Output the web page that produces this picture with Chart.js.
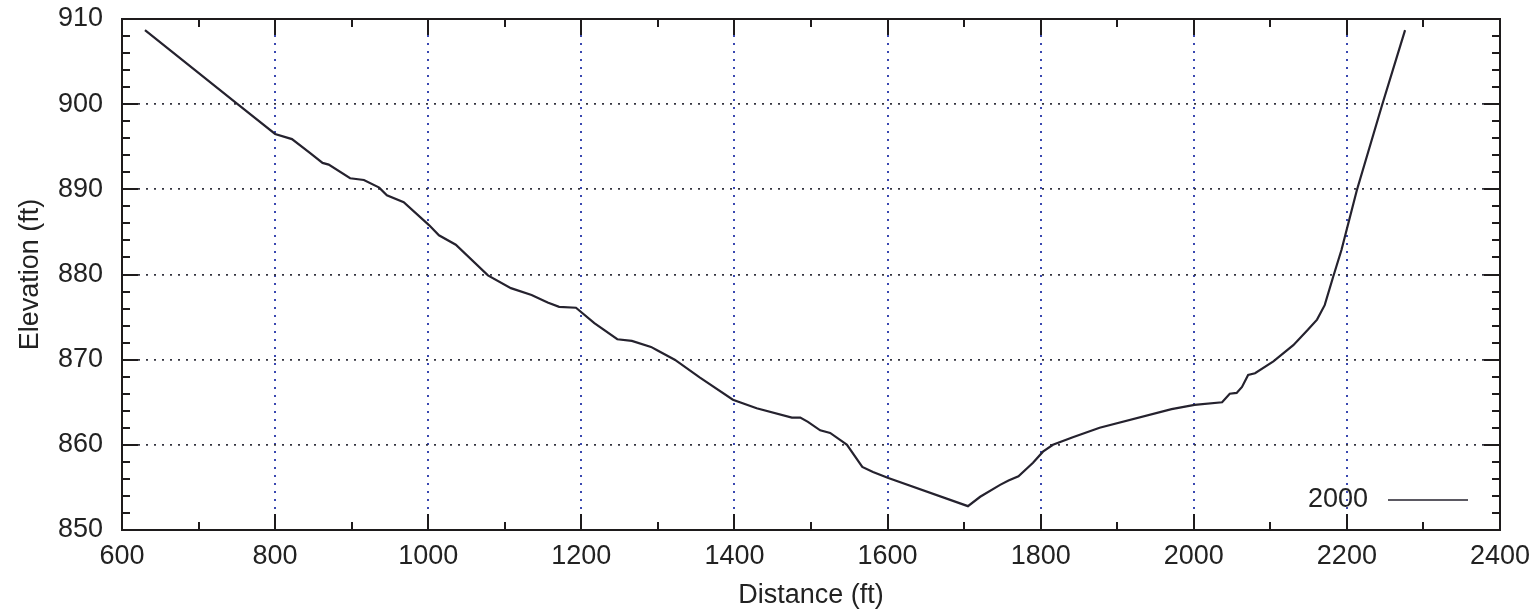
<!DOCTYPE html>
<html>
<head>
<meta charset="utf-8">
<title>Elevation profile</title>
<script src="https://cdn.jsdelivr.net/npm/chart.js@4/dist/chart.umd.min.js"></script>
<style>
    html, body { margin: 0; padding: 0; background: #fff; }
    #wrap { width: 1539px; height: 615px; }
</style>
</head>
<body>
<div id="wrap"><canvas id="profile"></canvas></div>
<script>

// cross section, survey 2000
var seriesName = "2000";
var distance = [630, 751, 800, 822, 845, 862, 870, 898, 916, 936, 946, 968, 1001, 1014, 1036, 1078,
    1108, 1135, 1156, 1171, 1193, 1217, 1247, 1266, 1291, 1299, 1322, 1355, 1398, 1429, 1475, 1486,
    1496, 1512, 1525, 1544, 1547, 1567, 1581, 1601, 1705, 1721, 1747, 1758, 1771, 1790, 1803, 1816,
    1842, 1877, 1971, 2001, 2037, 2047, 2056, 2063, 2071, 2080, 2104, 2130, 2149, 2161, 2171, 2182,
    2193, 2213, 2246, 2276];
var elevation = [908.7, 900.0, 896.5, 895.9, 894.3, 893.1, 892.9, 891.3, 891.1, 890.2, 889.3, 888.5, 885.8, 884.6, 883.5, 879.9,
    878.4, 877.6, 876.7, 876.2, 876.1, 874.3, 872.4, 872.2, 871.5, 871.1, 870.0, 867.9, 865.3, 864.3, 863.2, 863.2,
    862.7, 861.7, 861.4, 860.2, 860.0, 857.4, 856.8, 856.1, 852.8, 853.9, 855.3, 855.8, 856.3, 857.9, 859.2, 860.0,
    860.9, 862.0, 864.2, 864.7, 865.0, 866.0, 866.1, 866.8, 868.2, 868.4, 869.8, 871.7, 873.5, 874.7, 876.4, 879.7,
    882.9, 889.9, 899.9, 908.7];

var xMin = 600, xMax = 2400, xStep = 200, xMinor = 100;
var yMin = 850, yMax = 910, yStep = 10, yMinor = 2;

var points = [];
for (var i = 0; i < distance.length; i++) {
    points.push({x: distance[i], y: elevation[i]});
}

var lineColor = "#25222e";
var fontFamily = "'Liberation Sans', Arial, sans-serif";

// plain numbers, no thousands separator
var plainLabel = function (value) {
    return String(value);
};

// gnuplot style frame: box, inward ticks on all four sides, key inside
var frameTicks = {
    id: 'frameTicks',
    afterDraw: function (chart) {
        var ctx = chart.ctx;
        var a = chart.chartArea;
        var xs = chart.scales.x;
        var ys = chart.scales.y;
        var v, p, len;

        ctx.save();
        ctx.strokeStyle = "#1e1b1c";
        ctx.lineWidth = 2;
        ctx.beginPath();

        for (v = xMin; v <= xMax; v += xMinor) {
            p = Math.round(xs.getPixelForValue(v));
            len = (v % xStep === 0) ? 16 : 8;
            ctx.moveTo(p, a.bottom);
            ctx.lineTo(p, a.bottom - len);
            ctx.moveTo(p, a.top);
            ctx.lineTo(p, a.top + len);
        }
        for (v = yMin; v <= yMax; v += yMinor) {
            p = Math.round(ys.getPixelForValue(v));
            len = (v % yStep === 0) ? 16 : 8;
            ctx.moveTo(a.left, p);
            ctx.lineTo(a.left + len, p);
            ctx.moveTo(a.right, p);
            ctx.lineTo(a.right - len, p);
        }
        ctx.stroke();

        ctx.strokeRect(a.left, a.top, a.right - a.left, a.bottom - a.top);

        // key
        var ky = a.bottom - 30;
        ctx.fillStyle = "#222";
        ctx.font = "27px " + fontFamily;
        ctx.textAlign = "right";
        ctx.textBaseline = "middle";
        ctx.fillText(chart.data.datasets[0].label, a.right - 132, ky);
        ctx.strokeStyle = lineColor;
        ctx.lineWidth = 1.5;
        ctx.beginPath();
        ctx.moveTo(a.right - 112, ky);
        ctx.lineTo(a.right - 32, ky);
        ctx.stroke();
        ctx.restore();
    }
};

var ctx = document.getElementById("profile").getContext("2d");

var chart = new Chart(ctx, {
    type: 'line',
    data: {
        datasets: [
            {
                label: seriesName,
                data: points,
                borderColor: lineColor,
                borderWidth: 2.2,
                pointRadius: 0,
                tension: 0,
                fill: false
            }
        ]
    },
    options: {
        responsive: true,
        maintainAspectRatio: false,
        animation: false,
        layout: {
            padding: {left: 0, right: 39, top: 19, bottom: 0}
        },
        plugins: {
            legend: {display: false},
            tooltip: {enabled: false}
        },
        scales: {
            x: {
                type: 'linear',
                min: xMin,
                max: xMax,
                ticks: {
                    stepSize: xStep,
                    callback: plainLabel,
                    color: "#222",
                    padding: 10,
                    maxRotation: 0,
                    font: {family: fontFamily, size: 27}
                },
                grid: {
                    color: "#3a48b0",
                    lineWidth: 2,
                    drawTicks: false
                },
                border: {display: false, dash: [2, 6]},
                title: {
                    display: true,
                    text: "Distance (ft)",
                    color: "#222",
                    padding: {top: 0, bottom: 3},
                    font: {family: fontFamily, size: 27}
                },
                afterFit: function (scale) {
                    scale.height = 85;
                    scale.paddingLeft = 0;
                    scale.paddingRight = 0;
                }
            },
            y: {
                min: yMin,
                max: yMax,
                ticks: {
                    stepSize: yStep,
                    callback: plainLabel,
                    color: "#222",
                    padding: 19,
                    font: {family: fontFamily, size: 27}
                },
                grid: {
                    color: "#34343f",
                    lineWidth: 1.7,
                    drawTicks: false
                },
                border: {display: false, dash: [2, 6]},
                title: {
                    display: true,
                    text: "Elevation (ft)",
                    color: "#222",
                    padding: {top: 14, bottom: 0},
                    font: {family: fontFamily, size: 27}
                },
                afterFit: function (scale) {
                    scale.width = 122;
                    scale.paddingTop = 0;
                    scale.paddingBottom = 0;
                }
            }
        }
    },
    plugins: [frameTicks]
});

</script>
</body>
</html>
